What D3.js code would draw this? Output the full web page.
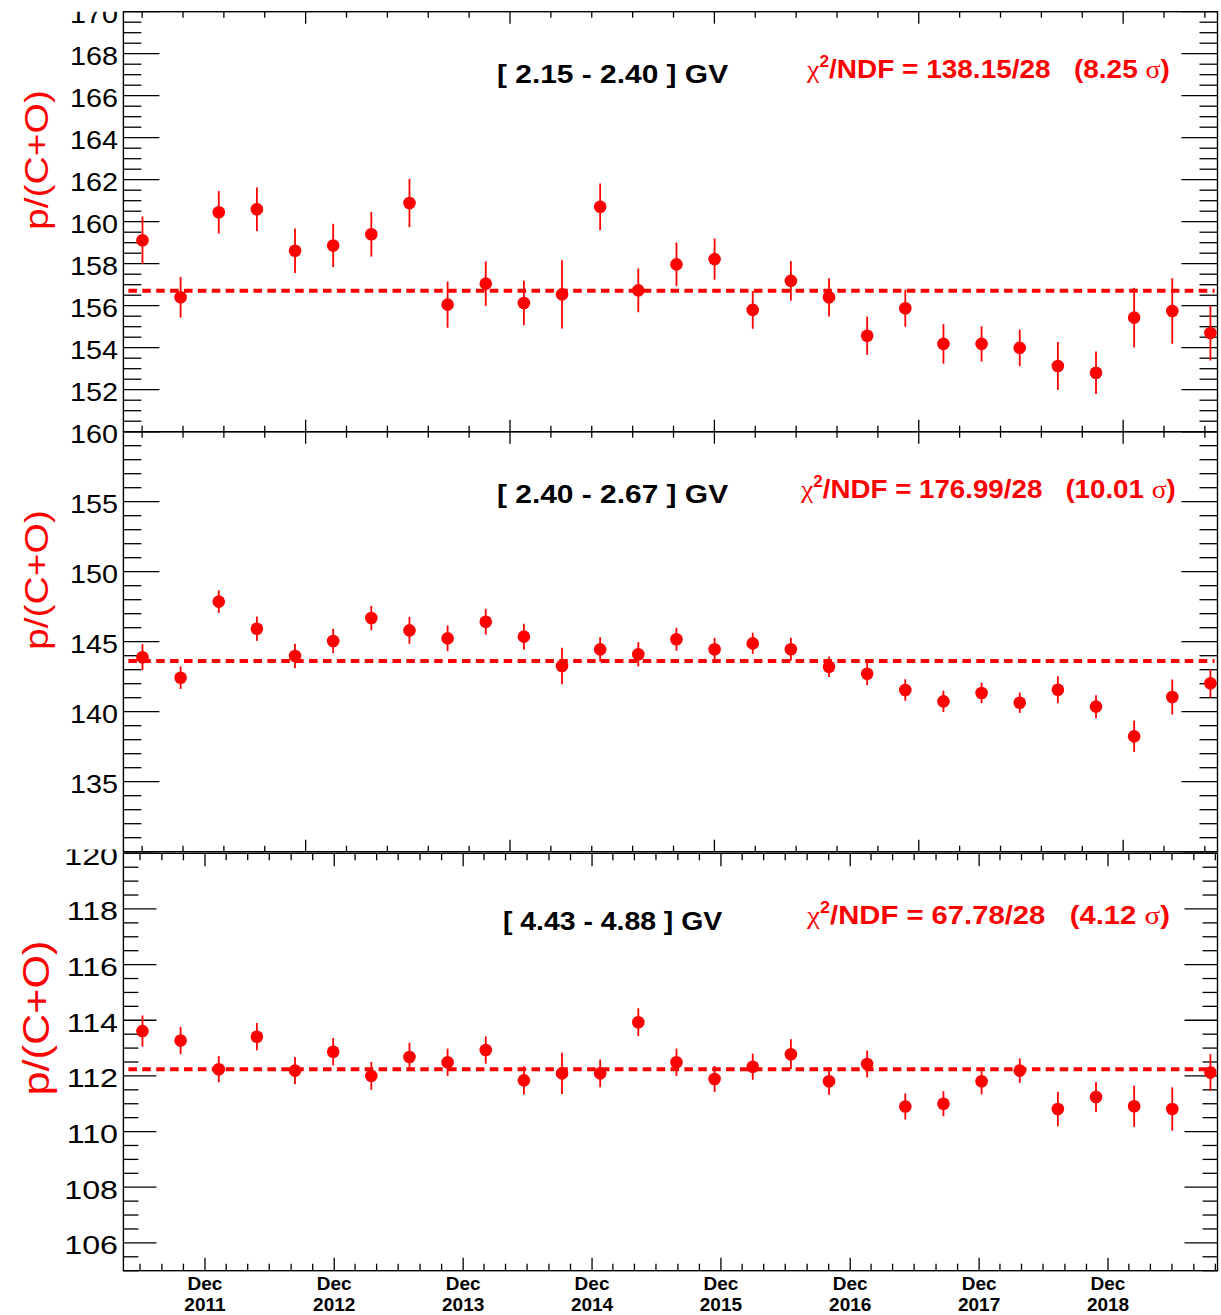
<!DOCTYPE html>
<html><head><meta charset="utf-8">
<script src="https://cdn.jsdelivr.net/npm/d3@7"></script>
<style>body{margin:0;background:#fff}svg{display:block}text{font-family:"Liberation Sans",Arial,Helvetica,sans-serif}</style>
</head><body>
<svg id="c" width="1221" height="1315"></svg>
<script>
// ---------- data ----------
const binCenters = ["2011-07-08","2011-10-24","2012-02-09","2012-05-27","2012-09-12","2012-12-29",
  "2013-04-16","2013-08-02","2013-11-18","2014-03-06","2014-06-22","2014-10-08","2015-01-24",
  "2015-05-12","2015-08-28","2015-12-14","2016-03-31","2016-07-17","2016-11-02","2017-02-18",
  "2017-06-06","2017-09-22","2018-01-08","2018-04-26","2018-08-12","2018-11-28","2019-03-16",
  "2019-07-02","2019-10-18"];
const timeRange = ["2011-05-15","2019-11-07"];

const ratio1 = [159.12,156.40,160.45,160.59,158.62,158.87,159.40,160.89,156.05,157.05,156.13,156.54,160.71,156.73,
  157.97,158.22,155.80,157.18,156.40,154.57,155.88,154.18,154.18,153.99,153.13,152.81,155.43,155.75,154.70];
const err1 = [1.13,0.97,1.01,1.04,1.06,1.03,1.06,1.15,1.10,1.06,1.06,1.62,1.11,1.04,
  1.04,0.98,0.90,0.94,0.91,0.91,0.88,0.94,0.84,0.87,1.14,1.01,1.42,1.56,1.31];
const ratio2 = [143.89,142.43,147.86,145.93,143.98,145.05,146.69,145.81,145.24,146.43,145.36,143.26,144.45,144.10,
  145.17,144.46,144.88,144.46,143.21,142.71,141.55,140.74,141.34,140.64,141.57,140.36,138.24,141.05,142.03];
const err2 = [0.93,0.81,0.81,0.87,0.87,0.87,0.87,0.96,0.92,0.92,0.92,1.30,0.87,0.87,
  0.82,0.82,0.76,0.82,0.73,0.81,0.77,0.77,0.73,0.73,0.96,0.82,1.12,1.25,1.02];
const ratio3 = [113.61,113.27,112.24,113.41,112.19,112.87,112.00,112.68,112.49,112.93,111.84,112.09,112.09,113.93,
  112.49,111.89,112.33,112.78,111.81,112.43,110.90,111.00,111.81,112.19,110.81,111.24,110.91,110.81,112.12];
const err3 = [0.56,0.49,0.47,0.49,0.49,0.49,0.50,0.51,0.49,0.49,0.51,0.74,0.50,0.50,
  0.49,0.47,0.47,0.54,0.49,0.48,0.47,0.45,0.47,0.44,0.62,0.54,0.74,0.78,0.66];
const fitMeans = [156.71,143.62,112.24];
const rigidityBins = [["2.15","2.40"],["2.40","2.67"],["4.43","4.88"]];
const chi2Values = ["138.15","176.99","67.78"];
const ndfValues = ["28","28","28"];
const sigmaValues = ["8.25","10.01","4.12"];
const yDomains = [[150,170],[130,160],[105,120]];
const yMajorSteps = [2,5,2];
const yMinorSteps = [0.5,1,0.5];
const yTitle = "p/(C+O)";

// ---------- layout ----------
const W = 1221, H = 1315, RED = "#ff0000";
const X0 = 123.4, X1 = 1217.5;
const svg = d3.select("#c");
svg.append("rect").attr("width", W).attr("height", H).attr("fill", "#fff");
const defs = svg.append("defs");

const x = d3.scaleUtc().domain(timeRange.map(s => new Date(s + "T00:00:00Z"))).range([X0, X1]);
const dates = binCenters.map(s => new Date(s + "T00:00:00Z"));

const layout = [
  {top: 11.7, bottom: 431.7, majLen: 36, minLen: 18, tickFont: 25, tickSx: 1.15, hideBottomLabel: true, clipTop: 11.7,
   titleX: 497, titleW: 232, titleY: 83, chiX: 806, chiW: 364, chiY: 78,
   yTitleCY: 160, yTitleBase: 48, yTitleFont: 34, yTitleLen: 140, bottomTime: false},
  {top: 431.7, bottom: 851.7, majLen: 36, minLen: 18, tickFont: 25, tickSx: 1.15, hideBottomLabel: true, clipTop: 0,
   titleX: 497, titleW: 232, titleY: 503, chiX: 800, chiW: 376, chiY: 498,
   yTitleCY: 580, yTitleBase: 48, yTitleFont: 34, yTitleLen: 140, bottomTime: false},
  {top: 853.3, bottom: 1270.7, majLen: 33, minLen: 15, tickFont: 26, tickSx: 1.24, hideBottomLabel: false, clipTop: 849.5,
   titleX: 503, titleW: 220, titleY: 930, chiX: 806, chiW: 364, chiY: 924,
   yTitleCY: 1018, yTitleBase: 49.5, yTitleFont: 36, yTitleLen: 155, bottomTime: true}
];
const series = [[ratio1, err1],[ratio2, err2],[ratio3, err3]];

function fitText(textSel, target) {
  const bb = textSel.node().getBBox();
  const s = target / bb.width;
  textSel.attr("transform", `scale(${s},1) translate(${-bb.x},0)`);
}

layout.forEach((L, pi) => {
  const [vals, errs] = series[pi];
  const dom = yDomains[pi];
  const y = d3.scaleLinear().domain(dom).range([L.bottom, L.top]);
  const g = svg.append("g");

  // y ticks (left and right)
  const eps = 1e-6;
  const yt = d3.range(dom[0], dom[1] + eps, yMinorSteps[pi]);
  const isMaj = v => Math.abs(v / yMajorSteps[pi] - Math.round(v / yMajorSteps[pi])) < eps;
  g.selectAll("line.yl").data(yt).join("line")
    .attr("x1", X0).attr("x2", v => X0 + (isMaj(v) ? L.majLen : L.minLen))
    .attr("y1", v => y(v)).attr("y2", v => y(v)).attr("stroke", "#000").attr("stroke-width", 1.3);
  g.selectAll("line.yr").data(yt).join("line")
    .attr("x1", X1).attr("x2", v => X1 - (isMaj(v) ? L.majLen : L.minLen))
    .attr("y1", v => y(v)).attr("y2", v => y(v)).attr("stroke", "#000").attr("stroke-width", 1.3);

  // y labels
  const clipId = "clip" + pi;
  defs.append("clipPath").attr("id", clipId).append("rect")
    .attr("x", 0).attr("y", L.clipTop).attr("width", W).attr("height", H);
  const labs = yt.filter(v => isMaj(v) && !(L.hideBottomLabel && Math.abs(v - dom[0]) < eps));
  const lg = g.append("g").attr("clip-path", `url(#${clipId})`);
  lg.selectAll("text").data(labs).join("text")
    .attr("transform", v => `translate(118,${y(v) + 2 + 0.358 * L.tickFont}) scale(${L.tickSx},1)`)
    .attr("text-anchor", "end").attr("font-size", L.tickFont).attr("fill", "#000")
    .text(v => d3.format("d")(v));

  // x ticks
  const [d0, d1] = x.domain();
  let xt;
  if (!L.bottomTime) {
    const step = 1e10; // 1e7 seconds
    const t0 = Math.ceil(+d0 / step) * step;
    xt = d3.range(t0, +d1, step).map(t => ({d: new Date(t), maj: Math.round(t / step) % 5 === 0}));
  } else {
    const majors = d3.utcYear.range(d0, d1).map(d => +d);
    xt = d3.utcMonth.every(2).range(d0, d1).map(d => ({d, maj: majors.includes(+d)}));
  }
  const xl = L.bottomTime ? 13 : 12, xs = L.bottomTime ? 7 : 6;
  g.selectAll("line.xb").data(xt).join("line")
    .attr("x1", t => x(t.d)).attr("x2", t => x(t.d))
    .attr("y1", L.bottom).attr("y2", t => L.bottom - (t.maj ? xl : xs))
    .attr("stroke", "#000").attr("stroke-width", 1.3);
  g.selectAll("line.xt").data(xt).join("line")
    .attr("x1", t => x(t.d)).attr("x2", t => x(t.d))
    .attr("y1", L.top).attr("y2", t => L.top + (t.maj ? xl : xs))
    .attr("stroke", "#000").attr("stroke-width", 1.3);

  if (L.bottomTime) {
    const majD = xt.filter(t => t.maj).map(t => t.d);
    const prevDay = d => new Date(+d - 864e5);
    g.selectAll("text.xm").data(majD).join("text")
      .attr("x", d => x(d)).attr("y", 1290).attr("text-anchor", "middle")
      .attr("font-size", 19).attr("font-weight", "bold").text(d => d3.utcFormat("%b")(prevDay(d)));
    g.selectAll("text.xy").data(majD).join("text")
      .attr("x", d => x(d)).attr("y", 1310.5).attr("text-anchor", "middle")
      .attr("font-size", 19).attr("font-weight", "bold").text(d => d3.utcFormat("%Y")(prevDay(d)));
  }

  // frame
  g.append("rect").attr("x", X0).attr("y", L.top).attr("width", X1 - X0).attr("height", L.bottom - L.top)
    .attr("fill", "none").attr("stroke", "#000").attr("stroke-width", 1.4);

  // mean line
  g.append("line").attr("x1", X0 + 5).attr("x2", X1 - 3)
    .attr("y1", y(fitMeans[pi])).attr("y2", y(fitMeans[pi]))
    .attr("stroke", RED).attr("stroke-width", 4).attr("stroke-dasharray", "8.5,5.4");

  // error bars + markers
  const pts = vals.map((v, i) => ({d: dates[i], v, e: errs[i]}));
  g.selectAll("line.err").data(pts).join("line")
    .attr("x1", p => x(p.d)).attr("x2", p => x(p.d))
    .attr("y1", p => y(p.v - p.e)).attr("y2", p => y(p.v + p.e))
    .attr("stroke", RED).attr("stroke-width", 1.8);
  g.selectAll("circle").data(pts).join("circle")
    .attr("cx", p => x(p.d)).attr("cy", p => y(p.v)).attr("r", 6.3).attr("fill", RED);

  // title
  const tg = g.append("g").attr("transform", `translate(${L.titleX},${L.titleY})`);
  const tt = tg.append("text").attr("font-size", 26).attr("font-weight", "bold").attr("fill", "#000")
    .style("white-space", "pre").text(`[ ${rigidityBins[pi][0]} - ${rigidityBins[pi][1]} ] GV`);
  fitText(tt, L.titleW);

  // chi2 text
  const cg = g.append("g").attr("transform", `translate(${L.chiX},${L.chiY})`);
  const ct = cg.append("text").attr("font-size", 26).attr("font-weight", "bold").attr("fill", RED)
    .style("white-space", "pre");
  ct.append("tspan").style("font-family", "'Liberation Serif','DejaVu Serif',serif").attr("font-weight", "normal").text("χ");
  ct.append("tspan").attr("font-size", 16).attr("dy", -11).text("2");
  ct.append("tspan").attr("dy", 11).text(`/NDF = ${chi2Values[pi]}/${ndfValues[pi]}   (${sigmaValues[pi]} `);
  ct.append("tspan").style("font-family", "'Liberation Serif','DejaVu Serif',serif").attr("font-weight", "normal").text("σ");
  ct.append("tspan").text(")");
  fitText(ct, L.chiW);

  // y title
  const yg = g.append("g").attr("transform", `translate(0,${L.yTitleCY}) rotate(-90)`);
  const yt2 = yg.append("text").attr("x", 0).attr("y", L.yTitleBase).attr("text-anchor", "middle")
    .attr("font-size", L.yTitleFont).attr("fill", RED).text(yTitle);
  const bb = yt2.node().getBBox();
  yt2.attr("transform", `scale(${L.yTitleLen / bb.width},1)`);
});
</script>
</body></html>
